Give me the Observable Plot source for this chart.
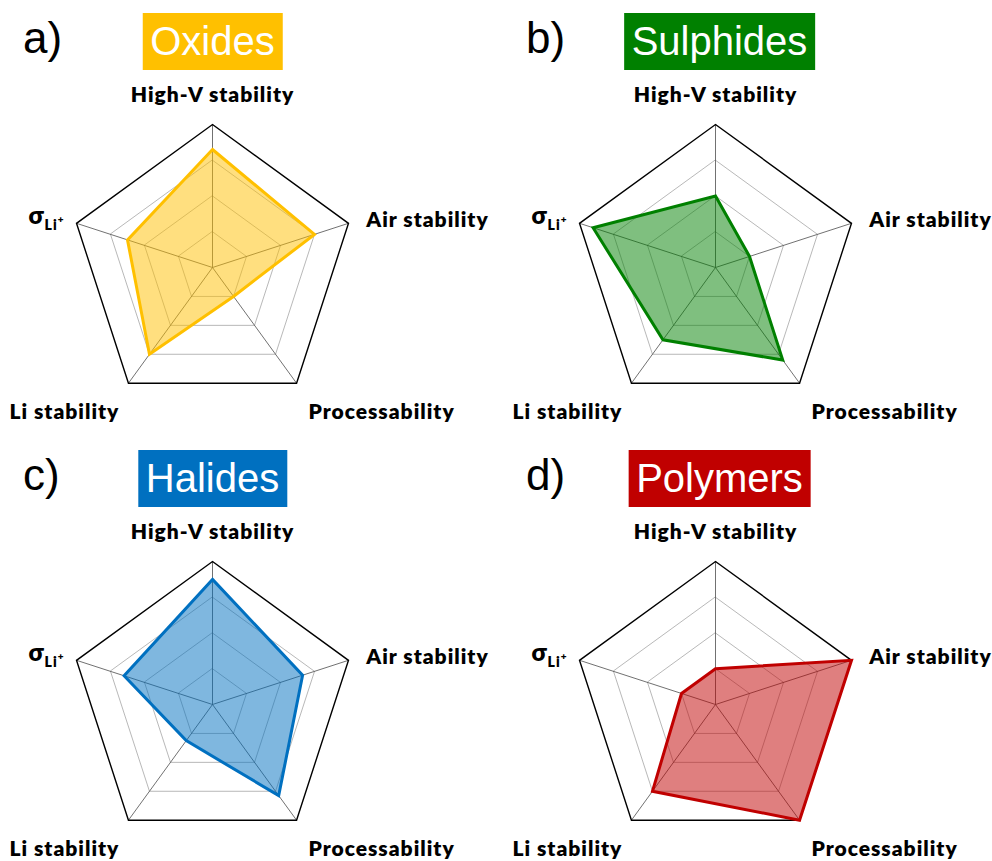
<!DOCTYPE html>
<html><head><meta charset="utf-8">
<script src="https://cdn.jsdelivr.net/npm/d3@7"></script>
<script src="https://cdn.jsdelivr.net/npm/@observablehq/plot@0.6"></script>
<style>
body{margin:0;background:#fff;}
#fig{position:relative;width:992px;height:861px;overflow:hidden;background:#fff;}
.panel{position:absolute;width:489px;height:424px;}
.panel svg{position:absolute;left:0;top:0;}
.panel svg text{letter-spacing:1px;}
.letter{position:absolute;font-family:"Liberation Sans",Arial,sans-serif;font-size:44px;color:#000;line-height:44px;white-space:nowrap;}
.title{position:absolute;font-family:"Liberation Sans",Arial,sans-serif;font-size:40px;color:#fff;height:57px;line-height:57px;padding:0 8px;transform:translateX(-50%);white-space:nowrap;}
</style></head><body><div id="fig"></div>
<script>
// ---- data ----
const axes = ["High-V stability", "Air stability", "Processability", "Li stability", "σLi+"];
const materials = ["Oxides", "Sulphides", "Halides", "Polymers"];
const panelLetters = ["a)", "b)", "c)", "d)"];
const colors = ["#FFC000", "#008000", "#0070C0", "#C00000"];
const oxides    = [3.3, 3.0, 1.0, 3.0, 2.5];
const sulphides = [2.0, 1.0, 3.2, 2.5, 3.6];
const halides   = [3.5, 2.65, 3.15, 1.25, 2.6];
const polymers  = [1.0, 4.0, 4.0, 3.0, 1.0];
const levels = [1, 2, 3, 4];

// ---- layout ----
const series = [oxides, sulphides, halides, polymers];
const W = 489, H = 424, cx = 212, cy = 267, R = 143, maxV = 4;
const s = R / maxV;
const colStep = 503, rowStep = 437;
// label offsets in pixels from the outer vertex (dx right, dy down, baseline)
const labelOffsets = [[0, -23], [79, 4], [85, 36], [-64, 36], [-30, 1]];

function pt(i, v) {
  const a = i * 2 * Math.PI / axes.length;
  return {x: v * Math.sin(a), y: v * Math.cos(a)};
}

const fig = document.getElementById("fig");

materials.forEach((m, k) => {
  const col = k % 2, row = Math.floor(k / 2);
  const panel = document.createElement("div");
  panel.className = "panel";
  panel.style.left = (col * colStep) + "px";
  panel.style.top = (row * rowStep) + "px";
  fig.appendChild(panel);

  const rings = levels.flatMap(l => axes.map((a, i) => ({level: l, ...pt(i, l)})));
  const spokes = axes.map((a, i) => ({axis: a, ...pt(i, maxV)}));
  const poly = series[k].map((v, i) => ({axis: axes[i], value: v, ...pt(i, v)}));
  const labels = axes.map((a, i) => {
    const p = pt(i, maxV);
    return {axis: a, x: p.x + labelOffsets[i][0] / s, y: p.y - labelOffsets[i][1] / s};
  });

  const chart = Plot.plot({
    width: W, height: H, margin: 0,
    x: {domain: [-cx / s, (W - cx) / s], axis: null},
    y: {domain: [-(H - cy) / s, cy / s], axis: null},
    marks: [
      Plot.line(rings.filter(d => d.level < maxV), {x: "x", y: "y", z: "level", curve: "linear-closed", stroke: "#a6a6a6", strokeWidth: 0.8}),
      Plot.link(spokes, {x1: d => 0, y1: d => 0, x2: "x", y2: "y", stroke: "#4d4d4d", strokeWidth: 0.8}),
      Plot.line(rings.filter(d => d.level === maxV), {x: "x", y: "y", z: "level", curve: "linear-closed", stroke: "#000", strokeWidth: 1.4, strokeLinejoin: "miter", strokeMiterlimit: 10}),
      Plot.line(poly, {x: "x", y: "y", curve: "linear-closed", fill: colors[k], fillOpacity: 0.5, stroke: colors[k], strokeWidth: 3, strokeLinejoin: "miter", strokeMiterlimit: 10}),
      Plot.text(labels, {x: "x", y: "y", text: "axis", textAnchor: "middle", lineAnchor: "bottom", fontFamily: "Lato", fontWeight: 800, fontSize: 21, fill: "#000"})
    ]
  });
  panel.appendChild(chart);

  // subscript / superscript for σLi+
  chart.querySelectorAll("text").forEach(t => {
    if (t.textContent === "σLi+") {
      t.textContent = "";
      const ns = "http://www.w3.org/2000/svg";
      const a = document.createElementNS(ns, "tspan"); a.textContent = "σ"; a.setAttribute("font-size", "24");
      const b = document.createElementNS(ns, "tspan"); b.textContent = "Li"; b.setAttribute("font-size", "14"); b.setAttribute("dy", "6");
      const c = document.createElementNS(ns, "tspan"); c.textContent = "+"; c.setAttribute("font-size", "10"); c.setAttribute("dy", "-7");
      t.append(a, b, c);
    }
  });

  const letter = document.createElement("div");
  letter.className = "letter";
  letter.textContent = panelLetters[k];
  letter.style.left = "23px";
  letter.style.top = "16px";
  panel.appendChild(letter);

  const title = document.createElement("div");
  title.className = "title";
  title.textContent = m;
  title.style.background = colors[k];
  title.style.left = (cx + 0.5 + (col ? 4 : 0)) + "px";
  title.style.top = "13px";
  panel.appendChild(title);
});
</script>
</body></html>
